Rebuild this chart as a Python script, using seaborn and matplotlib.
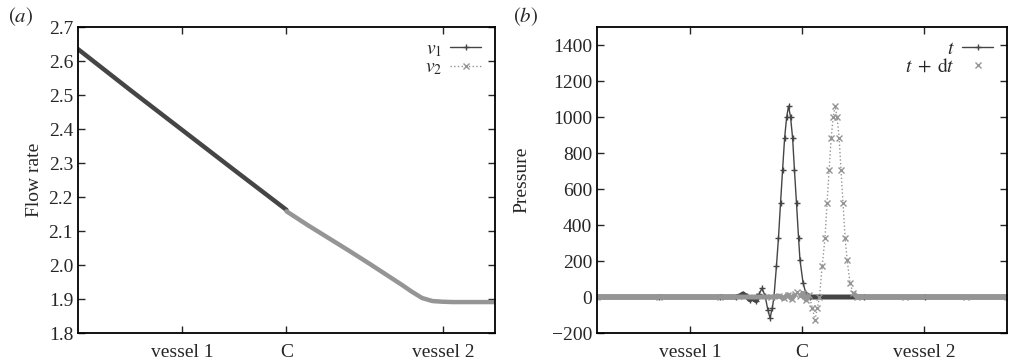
import matplotlib
matplotlib.use("Agg")
import matplotlib.pyplot as plt
from matplotlib.lines import Line2D
import seaborn as sns
import numpy as np

# ---- data ----
# (a) flow rate along the network, x in arbitrary arc length (C at 1.0)
v1_x = [0.0, 0.25, 0.5, 0.75, 1.0]
v1_q = [2.635, 2.515, 2.397, 2.279, 2.162]
v2_x = [1.0, 1.1, 1.2, 1.3, 1.4, 1.5, 1.55, 1.6, 1.65, 1.7, 1.75, 1.8, 1.9, 2.0]
v2_q = [2.158, 2.118, 2.080, 2.042, 2.003, 1.963, 1.943, 1.922, 1.903,
        1.894, 1.892, 1.891, 1.891, 1.891]
flow_ticks = [0.5, 1.0, 1.75]
flow_ticklabels = ["vessel 1", "C", "vessel 2"]

# (b) pressure pulse at t and t + dt
t_x = [0.0, 0.3, 0.6, 0.68, 0.70, 0.712, 0.73, 0.746, 0.76, 0.776, 0.79, 0.805,
       0.82, 0.833, 0.844, 0.855, 0.863, 0.875, 0.885, 0.895, 0.905, 0.915,
       0.925, 0.934, 0.944, 0.954, 0.963, 0.973, 0.983, 0.99, 1.005, 1.02,
       1.04, 1.3, 1.6, 2.0]
t_p = [0, 0, 0, 0, 8, 17, 3, -15, -5, -20, 15, 50,
       5, -70, -117, -60, 0, 170, 328, 520, 705, 883,
       1000, 1060, 1000, 883, 705, 520, 328, 205, 78, 15,
       0, 0, 0, 0]
tdt_x = [0.0, 0.3, 0.6, 0.85, 0.89, 0.91, 0.93, 0.95, 0.965, 0.976, 0.99, 1.005,
         1.02, 1.035, 1.05, 1.063, 1.075, 1.085, 1.098, 1.112, 1.122, 1.132,
         1.142, 1.152, 1.161, 1.171, 1.181, 1.19, 1.2, 1.21, 1.22, 1.234,
         1.249, 1.268, 1.5, 1.8, 2.0]
tdt_p = [0, 0, 0, 0, 5, -8, 12, -10, 15, 28, 5, 20,
         -15, 10, -60, -128, -60, 0, 170, 328, 520, 705,
         883, 1000, 1060, 1000, 883, 705, 520, 328, 205, 78,
         22, 0, 0, 0, 0]
pres_ticks = [0.454, 1.0, 1.595]
pres_ticklabels = ["vessel 1", "C", "vessel 2"]

DARK = "#454545"
LIGHT = "#959595"

sns.set_style("ticks")
plt.rcParams.update({
    "font.family": ["Liberation Serif", "DejaVu Serif"],
    "mathtext.fontset": "stix",
    "font.size": 14,
    "axes.linewidth": 1.3,
    "xtick.direction": "in",
    "ytick.direction": "in",
    "xtick.top": True,
    "ytick.right": True,
    "xtick.major.size": 5,
    "ytick.major.size": 5,
    "xtick.major.width": 1.0,
    "ytick.major.width": 1.0,
    "xtick.labelsize": 14,
    "ytick.labelsize": 14,
    "axes.edgecolor": "black",
})

fig = plt.figure(figsize=(10.1, 3.63), dpi=100)
ax1 = fig.add_axes([0.0772, 0.0826, 0.4129, 0.843])
ax2 = fig.add_axes([0.5911, 0.0826, 0.406, 0.843])

# ---- (a) flow rate ----
sns.lineplot(x=v1_x, y=v1_q, ax=ax1, color=DARK, lw=3.2, estimator=None, sort=False)
sns.lineplot(x=v2_x, y=v2_q, ax=ax1, color=LIGHT, lw=3.2, estimator=None, sort=False)
ax1.set_xlim(0, 2)
ax1.set_ylim(1.8, 2.7)
ax1.set_yticks(np.arange(1.8, 2.71, 0.1))
ax1.set_yticklabels([f"{v:.1f}" for v in np.arange(1.8, 2.71, 0.1)])
ax1.set_xticks(flow_ticks)
ax1.set_xticklabels(flow_ticklabels)
ax1.set_ylabel("Flow rate")
ax1.yaxis.set_label_coords(-0.085, 0.5)
h1 = [Line2D([], [], color=DARK, lw=1, marker="+", ms=5),
      Line2D([], [], color=LIGHT, lw=1, ls=":", marker="x", ms=4)]
ax1.legend(h1, [r"$v_1$", r"$v_2$"], loc="upper right", frameon=False,
           markerfirst=False, handlelength=1.6, handletextpad=0.4,
           labelspacing=0.0, borderaxespad=0.3, fontsize=14)

# ---- (b) pressure ----
t_p = np.array(t_p, dtype=float)
tdt_p = np.array(tdt_p, dtype=float)
# dense-sample band near zero (the many overlapping markers in the original)
t_band = np.where(np.abs(t_p) <= 25, t_p, np.nan)
tdt_band = np.where(np.abs(tdt_p) <= 25, tdt_p, np.nan)

ax2.plot(t_x, t_band, color=DARK, lw=3.6, solid_capstyle="butt")
sns.lineplot(x=t_x, y=t_p, ax=ax2, color=DARK, lw=1.0, marker="+", ms=5,
             mew=1.0, mec=DARK, estimator=None, sort=False)
ax2.plot(tdt_x, tdt_band, color=LIGHT, lw=3.6, solid_capstyle="butt")
sns.lineplot(x=tdt_x, y=tdt_p, ax=ax2, color=LIGHT, lw=1.0, ls=":", marker="x",
             ms=4, mew=1.0, mec=LIGHT, estimator=None, sort=False)
ax2.set_xlim(0, 2)
ax2.set_ylim(-200, 1500)
ax2.set_yticks(np.arange(-200, 1401, 200))
ax2.set_xticks(pres_ticks)
ax2.set_xticklabels(pres_ticklabels)
ax2.set_ylabel("Pressure")
ax2.yaxis.set_label_coords(-0.163, 0.5)
h2 = [Line2D([], [], color=DARK, lw=1, marker="+", ms=5),
      Line2D([], [], color=LIGHT, ls="none", marker="x", ms=4)]
ax2.legend(h2, [r"$t$", r"$t\;+\;\mathrm{d}t$"], loc="upper right", frameon=False,
           markerfirst=False, handlelength=1.6, handletextpad=0.4,
           labelspacing=0.0, borderaxespad=0.3, fontsize=14)

for ax in (ax1, ax2):
    ax.tick_params(axis="x", pad=8)

fig.text(0.008, 0.955, r"$(a)$", fontsize=15, va="center")
fig.text(0.508, 0.955, r"$(b)$", fontsize=15, va="center")

fig.savefig("out.png", dpi=100)
plt.close(fig)
